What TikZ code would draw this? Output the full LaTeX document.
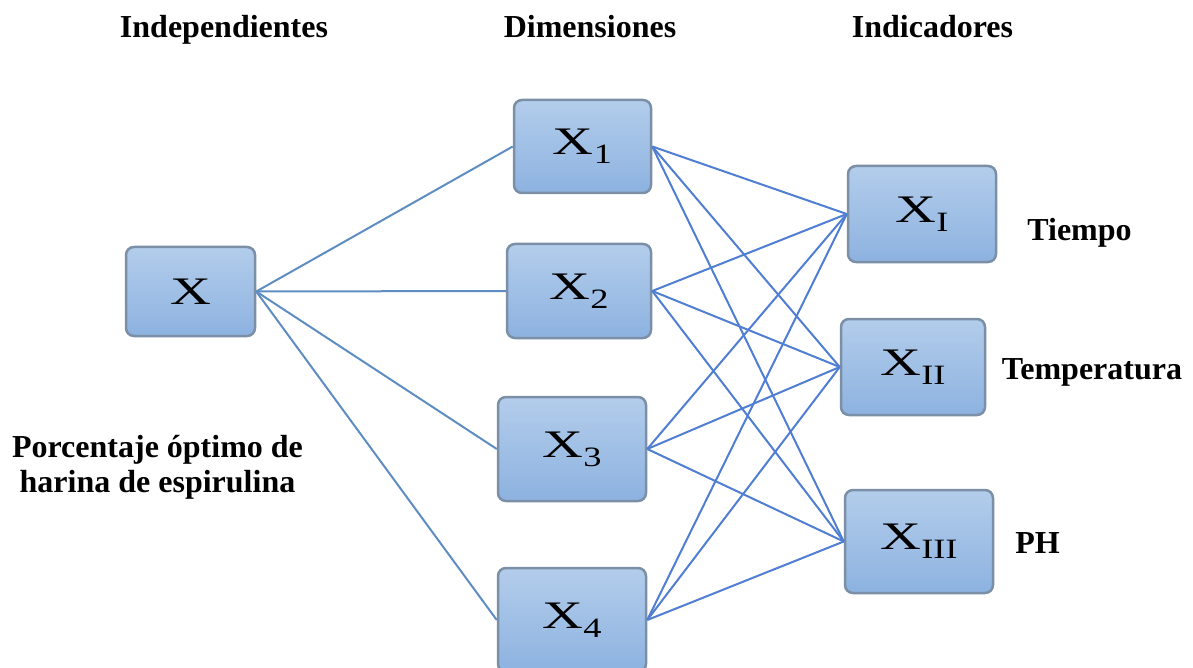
\documentclass[tikz,border=0pt]{standalone}
\usepackage{fontspec}
\setmainfont{Liberation Serif}
\definecolor{boxtop}{HTML}{B3CDEB}
\definecolor{boxbot}{HTML}{8DB2E0}
\definecolor{boxline}{HTML}{7B8FA6}
\definecolor{linkA}{HTML}{5E8DC2}
\definecolor{linkB}{HTML}{4F7ED3}
\newcommand{\vx}{\scalebox{1.45}[1]{X}}
\newcommand{\sbx}[1]{\raisebox{-9pt}{\fontsize{28}{28}\selectfont\scalebox{1.3}[1]{#1}}}

\begin{document}
\begin{tikzpicture}[x=1pt,y=-1pt]
	\tikzstyle{every node}=[inner sep=0pt]
	\tikzstyle{var}=[draw=boxline, line width=2.5pt, rounded corners=8pt, top color=boxtop, bottom color=boxbot, font=\fontsize{39}{39}\selectfont]
	\tikzstyle{lbl}=[font=\fontsize{32}{34}\selectfont\bfseries, anchor=base]
	\useasboundingbox (0,0) rectangle (1193,668);
	% headings
	\draw (224,38) node (h1) [lbl] {Independientes};
	\draw (590,38) node (h2) [lbl] {Dimensiones};
	\draw (932.5,38) node (h3) [lbl] {Indicadores};
	% variable
	\draw (190.5,291.5) node (x) [var,minimum width=129pt,minimum height=89pt] {\vx};
	\draw (157.5,457) node (p1) [lbl] {Porcentaje óptimo de};
	\draw (157.5,492) node (p2) [lbl] {harina de espirulina};
	% dimensions
	\draw (582.5,146.5) node (x1) [var,minimum width=137pt,minimum height=93pt] {\vx\sbx{1}};
	\draw (579,291) node (x2) [var,minimum width=144pt,minimum height=94pt] {\vx\sbx{2}};
	\draw (572,449) node (x3) [var,minimum width=148pt,minimum height=104pt] {\vx\sbx{3}};
	\draw (572,620) node (x4) [var,minimum width=148pt,minimum height=104pt] {\vx\sbx{4}};
	% indicators
	\draw (922,214) node (xa) [var,minimum width=148pt,minimum height=96pt] {\vx\sbx{I}};
	\draw (913,367) node (xb) [var,minimum width=144pt,minimum height=96pt] {\vx\sbx{II}};
	\draw (919,541.5) node (xc) [var,minimum width=148pt,minimum height=103pt] {\vx\sbx{III}};
	\draw (1079.5,241) node (ta) [lbl] {Tiempo};
	\draw (1092,379) node (tb) [lbl] {Temperatura};
	\draw (1037.5,553) node (tc) [lbl] {PH};
	% links
	\foreach \d in {x1,x2,x3,x4}
		\draw[linkA, line width=2pt] (x.east) -- (\d.west);
	\foreach \d in {x1,x2,x3,x4}
		\foreach \i in {xa,xb,xc}
			\draw[linkB, line width=2pt] (\d.east) -- (\i.west);
\end{tikzpicture}
\end{document}
